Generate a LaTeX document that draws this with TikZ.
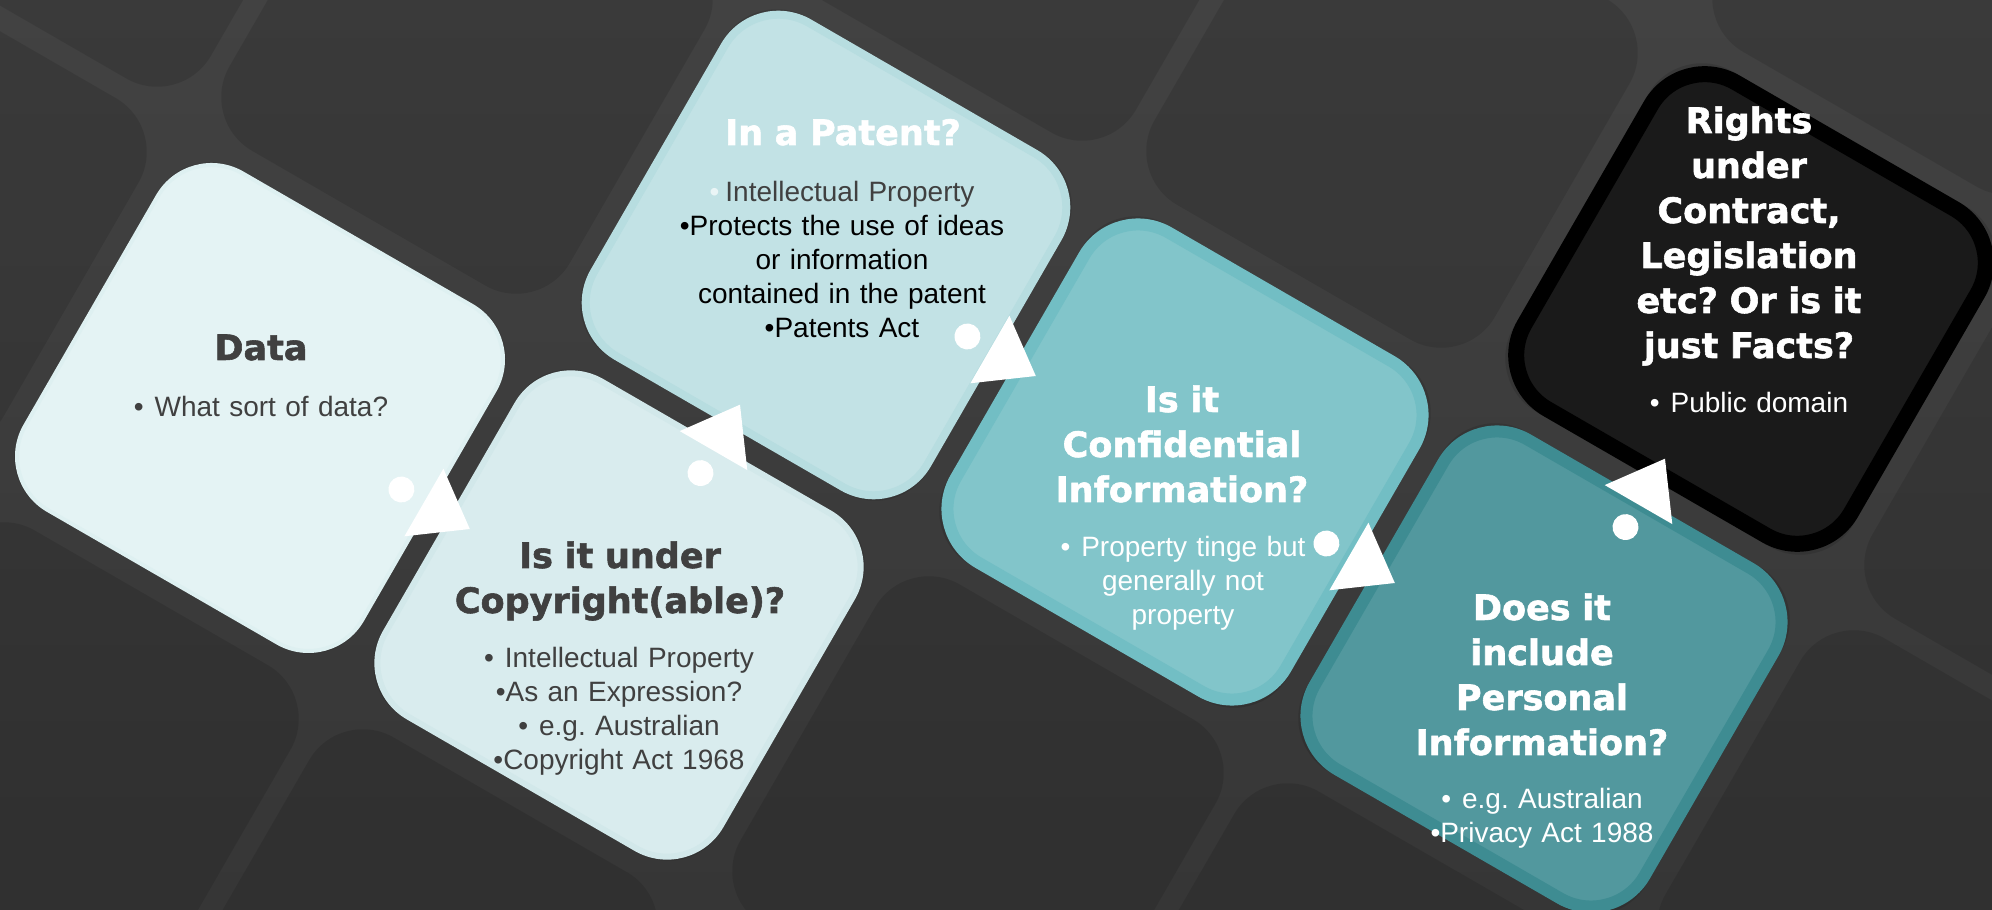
\documentclass[tikz,border=0pt]{standalone}
\usepackage{fontspec}
\setmainfont{Liberation Sans}
\newfontfamily\headfont{DejaVu Sans}[BoldFeatures={FakeBold=1.6}]
\usetikzlibrary{calc,positioning}
\frenchspacing

\definecolor{bgtop}{HTML}{424242}
\definecolor{bgbottom}{HTML}{363636}
\definecolor{inkgray}{HTML}{404040}
\definecolor{datafill}{HTML}{E4F3F4}
\definecolor{dataline}{HTML}{DEF0F1}
\definecolor{copyfill}{HTML}{D9ECEE}
\definecolor{copyline}{HTML}{D2E8EA}
\definecolor{patfill}{HTML}{C2E2E5}
\definecolor{patline}{HTML}{B7DDE0}
\definecolor{conffill}{HTML}{82C5CA}
\definecolor{confline}{HTML}{72BEC4}
\definecolor{persfill}{HTML}{52989E}
\definecolor{persline}{HTML}{3E8C92}
\definecolor{rightsfill}{HTML}{1A1A1A}
\definecolor{patbullet}{HTML}{EAF5F6}

\begin{document}
\begin{tikzpicture}[x=1pt,y=1pt,
	tile/.style={rectangle, rotate=-30, minimum size=393pt, rounded corners=62pt, inner sep=0pt},
	card/.style n args={3}{tile, fill=#1, draw=#2, line width=#3pt, minimum size=393pt-#3pt},
	head/.style={align=center, text width=420pt, anchor=base, inner sep=0pt,
		font=\headfont\bfseries\fontsize{35}{45}\selectfont},
	body/.style={align=center, text width=420pt, anchor=base, inner sep=0pt,
		font=\fontsize{28}{34}\selectfont}]
	\useasboundingbox (0,0) rectangle (1992,910);
	\clip (0,0) rectangle (1992,910);
	\shade[top color=bgtop, bottom color=bgbottom] (0,0) rectangle (1992,910);

	% background tiles
	\foreach \i in {-3,...,6}
		\foreach \j in {-2,...,3}
			\node[tile, fill=black, fill opacity=.11] (tile\i\j) at ({260+359*\i+207*\j},{502-207*\i+360*\j}) {};

	% steps
	\node[card={datafill}{dataline}{4}] (data) at (260,502) {};
	\node[card={copyfill}{copyline}{6}] (copy) at (619,295) {};
	\node[card={patfill}{patline}{8}] (patent) at (826,655) {};
	\node[card={conffill}{confline}{12}] (conf) at (1185,448) {};
	\node[card={persfill}{persline}{12}] (pers) at (1544,241) {};
	\node[card={rightsfill}{black}{16}] (rights) at (1751,601) {};

	% arrows between steps
	\foreach \a/\b/\ang in {data/copy/-30, copy/patent/60, patent/conf/-30, conf/pers/-30, pers/rights/60}{
		\begin{scope}[shift={($(\a)!.5!(\b)$)}, rotate=\ang]
			\fill[white] (35,0) -- (-18,39) -- (-18,-39) -- cycle;
			\fill[white] (-44,0) circle (13);
		\end{scope}
	}

	% texts
	\node[head, text=inkgray] (datahead) at (261,550) {Data};
	\node[body, text=inkgray] (databody) at (261,493) {•\hspace{11pt}What sort of data?};

	\node[head, text=inkgray] (copyhead) at (620,342) {Is it under\\Copyright(able)?};
	\node[body, text=inkgray] (copybody) at (619,242)
		{•\hspace{11pt}Intellectual Property\\•As an Expression?\\•\hspace{11pt}e.g. Australian\\•Copyright Act 1968};

	\node[head, text=white] (pathead) at (843,765) {In a Patent?};
	\node[body, text=black] (patbody) at (842,708)
		{{\color{patbullet}•}\hspace{6pt}{\color{inkgray}Intellectual Property}\\•Protects the use of ideas\\or information\\contained in the patent\\•Patents Act};

	\node[head, text=white] (confhead) at (1182,498) {Is it\\Confidential\\Information?};
	\node[body, text=white] (confbody) at (1183,353) {•\hspace{11pt}Property tinge but\\generally not\\property};

	\node[head, text=white] (pershead) at (1542,290) {Does it\\include\\Personal\\Information?};
	\node[body, text=white] (persbody) at (1542,101) {•\hspace{11pt}e.g. Australian\\•Privacy Act 1988};

	\node[head, text=white] (rightshead) at (1749,777) {Rights\\under\\Contract,\\Legislation\\etc? Or is it\\just Facts?};
	\node[body, text=white] (rightsbody) at (1749,497) {•\hspace{11pt}Public domain};
\end{tikzpicture}
\end{document}
